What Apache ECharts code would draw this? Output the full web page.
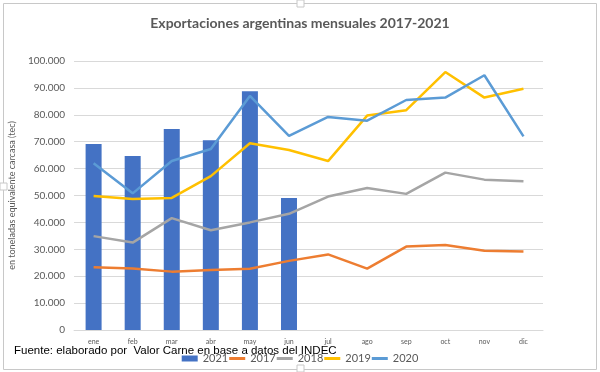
<!DOCTYPE html>
<html><head><meta charset="utf-8">
<script src="https://cdn.jsdelivr.net/npm/echarts@6/dist/echarts.min.js"></script>
<style>html,body{margin:0;padding:0;background:#fff}#c{width:600px;height:372px}</style>
</head><body><div id="c"></div>
<script>
const months = ['ene','feb','mar','abr','may','jun','jul','ago','sep','oct','nov','dic'];
const s2021 = [69100, 64700, 74700, 70500, 88800, 49100];
const s2017 = [23300, 22900, 21700, 22300, 22800, 25700, 28100, 22800, 31000, 31600, 29500, 29200];
const s2018 = [34900, 32500, 41600, 37100, 40000, 43200, 49600, 52800, 50600, 58500, 55900, 55300];
const s2019 = [49800, 48700, 49100, 57200, 69400, 66900, 62800, 79700, 81700, 95900, 86400, 89700];
const s2020 = [62000, 50800, 62800, 67300, 87000, 72200, 79200, 77800, 85500, 86400, 94700, 72000];
const yTicks = [0, 10000, 20000, 30000, 40000, 50000, 60000, 70000, 80000, 90000, 100000];

const chart = echarts.init(document.getElementById('c'));
const fmt = v => v === 0 ? '0' : String(v).replace(/\B(?=(\d{3})+(?!\d))/g, '.');
const lineIcon = 'path://M0,0h16v0.01h-16z M0,1.6h16v2.8h-16z M0,5.99h16v0.01h-16z';
const lineS = (name, data, color) => ({
  name, type: 'line', data, symbol: 'none', showSymbol: false, legendIcon: lineIcon,
  lineStyle: { color, width: 2.5 }, itemStyle: { color }, z: 3
});
chart.setOption({
  animation: false,
  title: {
    text: 'Exportaciones argentinas mensuales 2017-2021',
    left: 'center', top: 11,
    textStyle: { fontFamily: 'Lato', fontWeight: 'bold', fontSize: 14, color: '#595959' }
  },
  grid: { left: 67, right: 57, top: 61, bottom: 42 },
  legend: {
    bottom: 3, left: 'center',
    itemWidth: 16, itemHeight: 6, itemGap: 1,
    textStyle: { fontFamily: 'Lato', fontSize: 11, color: '#595959' },
    data: [
      { name: '2021', icon: 'rect' },
      { name: '2017', icon: lineIcon },
      { name: '2018', icon: lineIcon },
      { name: '2019', icon: lineIcon },
      { name: '2020', icon: lineIcon }
    ]
  },
  xAxis: {
    type: 'category', data: months,
    axisLine: { lineStyle: { color: '#d9d9d9' } },
    axisTick: { show: false },
    axisLabel: { fontSize: 7, color: '#595959', margin: 8, fontFamily: 'Lato' }
  },
  yAxis: {
    type: 'value', min: yTicks[0], max: yTicks[yTicks.length - 1], interval: 10000,
    name: 'en toneladas equivalente carcasa (tec)', nameLocation: 'middle', nameGap: 44,
    nameTextStyle: { fontSize: 9, color: '#595959', fontFamily: 'Lato' },
    axisLabel: { fontSize: 10, color: '#595959', margin: 9, fontFamily: 'Lato', formatter: fmt },
    axisLine: { show: false }, axisTick: { show: false },
    splitLine: { lineStyle: { color: '#d9d9d9', width: 1 } }
  },
  series: [
    { name: '2021', type: 'bar', data: s2021, barWidth: 16, itemStyle: { color: '#4472C4' }, z: 2 },
    lineS('2017', s2017, '#ED7D31'),
    lineS('2018', s2018, '#A5A5A5'),
    lineS('2019', s2019, '#FFC000'),
    lineS('2020', s2020, '#5B9BD5')
  ],
  graphic: [
    { type: 'rect', shape: { x: 3.5, y: 3.5, width: 593, height: 366 }, style: { fill: 'none', stroke: '#c8c8c8', lineWidth: 1 }, silent: true },
    { type: 'rect', shape: { x: 297, y: 0, width: 7, height: 7 }, style: { fill: '#fff', stroke: '#c8c8c8', lineWidth: 1 }, silent: true },
    { type: 'rect', shape: { x: 297, y: 365, width: 7, height: 7 }, style: { fill: '#fff', stroke: '#c8c8c8', lineWidth: 1 }, silent: true },
    { type: 'rect', shape: { x: 0, y: 183, width: 7, height: 7 }, style: { fill: '#fff', stroke: '#c8c8c8', lineWidth: 1 }, silent: true },
    { type: 'text', left: 14, top: 345, style: { text: 'Fuente: elaborado por  Valor Carne en base a datos del INDEC', fontFamily: 'Liberation Sans', fontSize: 11.5, fill: '#000' }, z: 10 }
  ]
});
</script></body></html>
